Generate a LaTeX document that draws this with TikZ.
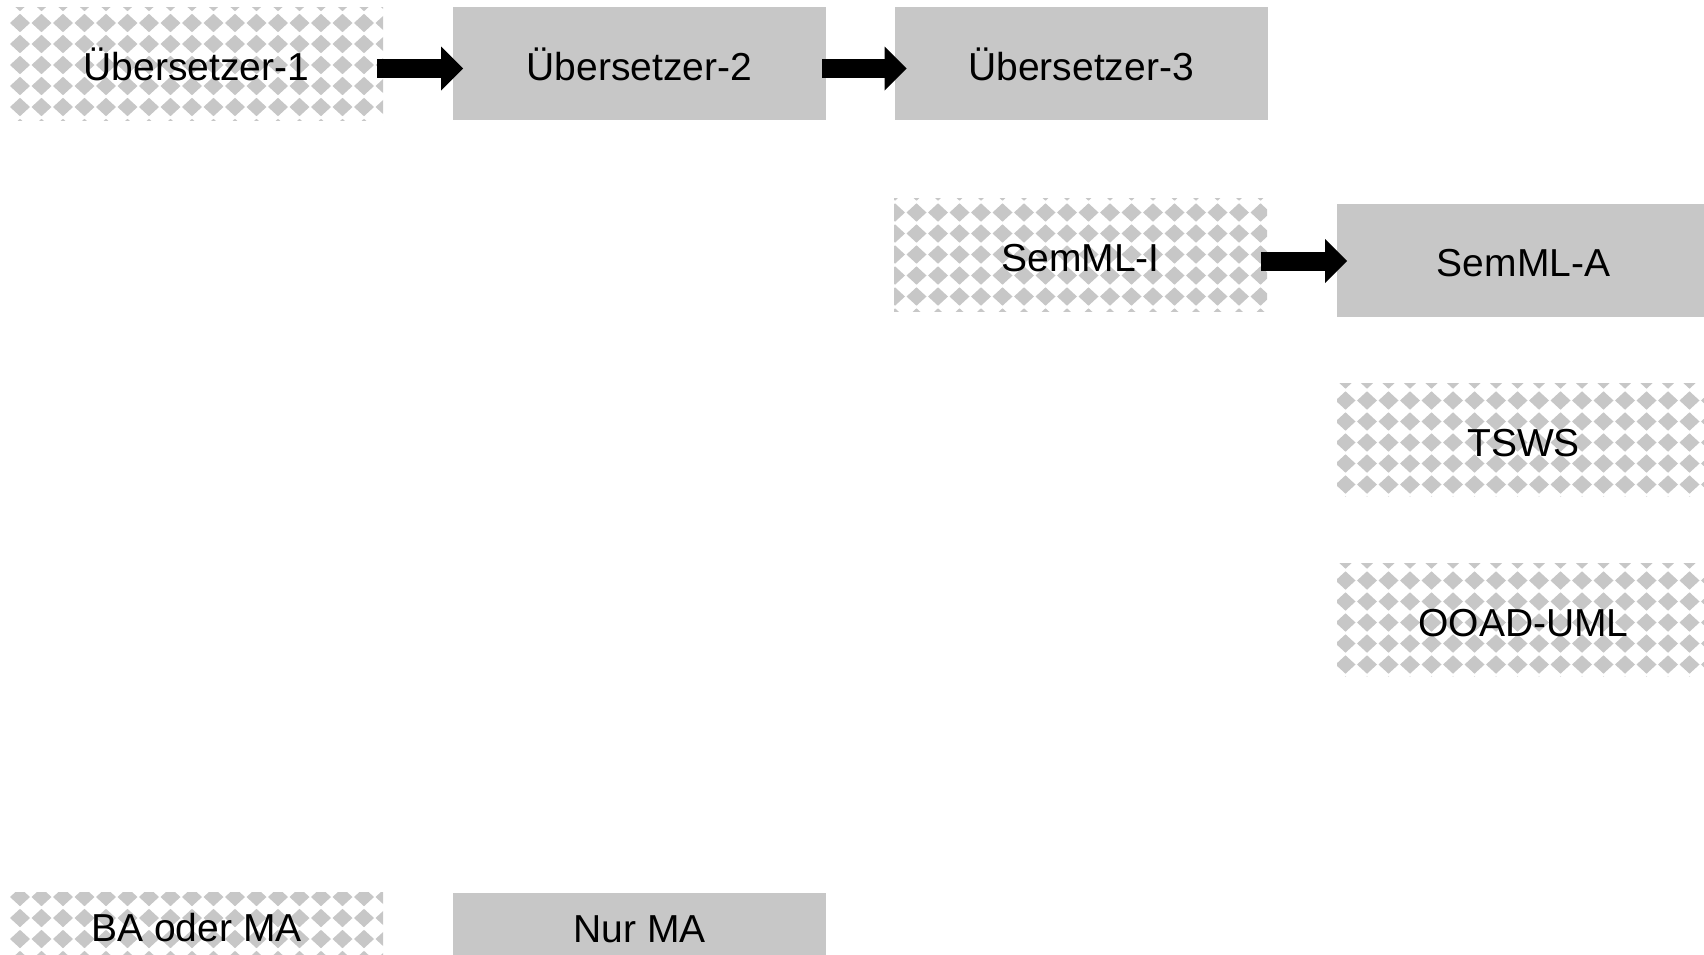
\documentclass[tikz,border=0pt]{standalone}
\usepackage{fontspec}
\setmainfont{Liberation Sans}
\usetikzlibrary{arrows.meta}
\definecolor{boxgray}{RGB}{199,199,199}
\tikzset{
  box/.style={inner sep=0pt, outer sep=0pt, minimum width=373pt, minimum height=113pt,
    text height=33pt, text depth=0pt, font=\fontsize{39}{46}\selectfont, text=black},
  solidbox/.style={box, fill=boxgray},
  patbox/.style={box},
  diamond fill/.style={fill=boxgray},
  bigarrow/.style={draw=black, line width=19pt, -{Triangle[length=22pt,width=44pt,line width=0pt]}},
}
% pattern of diamonds inside rectangle (#1,#2)-(#3,#4), phase #5,#6
\newcommand\patfill[6]{%
  \begin{scope}
    \clip (#1,#2) rectangle (#3,#4);
    \foreach \i in {-1,...,18}{\foreach \j in {-1,...,6}{
      \fill[diamond fill] ({#1+\i*21.5+#5},{#2+\j*21+#6}) +(-10,0) -- +(0,-9.2) -- +(10,0) -- +(0,9.2) -- cycle;
    }}
  \end{scope}}
\begin{document}
\begin{tikzpicture}[x=1pt,y=-1pt]
\useasboundingbox (0,0) rectangle (1704,954);
\clip (0,0) rectangle (1704,954);
\patfill{10}{7}{383}{120}{10}{16}
\patfill{894}{198.5}{1267}{311.5}{1}{14}
\patfill{1337}{383.5}{1710}{496.5}{8.5}{17}
\patfill{1337}{563.5}{1710}{676.5}{8.5}{17}
\patfill{10}{892}{383}{958}{10}{5}
\node[patbox] (u1) at (196.5,63.5) {Übersetzer-1};
\node[solidbox] (u2) at (639.5,63.5) {Übersetzer-2};
\node[solidbox] (u3) at (1081,63.5) {Übersetzer-3};
\node[patbox] (s1) at (1080.5,255) {SemML-I};
\node[solidbox] (s2) at (1523.5,260) {SemML-A};
\node[patbox] (t) at (1523.5,440) {TSWS};
\node[patbox] (o) at (1523.5,620) {OOAD-UML};
\node[patbox, minimum height=66pt] (ba) at (196.5,925) {BA oder MA};
\node[solidbox, minimum height=66pt] (ma) at (639.5,926) {Nur MA};
\draw[bigarrow] ([shift={(-6pt,-5pt)}]u1.east) -- ([shift={(10pt,-5pt)}]u2.west);
\draw[bigarrow] ([shift={(-4pt,-5pt)}]u2.east) -- ([shift={(12pt,-5pt)}]u3.west);
\draw[bigarrow] ([shift={(-6pt,-6pt)}]s1.east) -- ([shift={(10pt,-1pt)}]s2.west);
\end{tikzpicture}
\end{document}
